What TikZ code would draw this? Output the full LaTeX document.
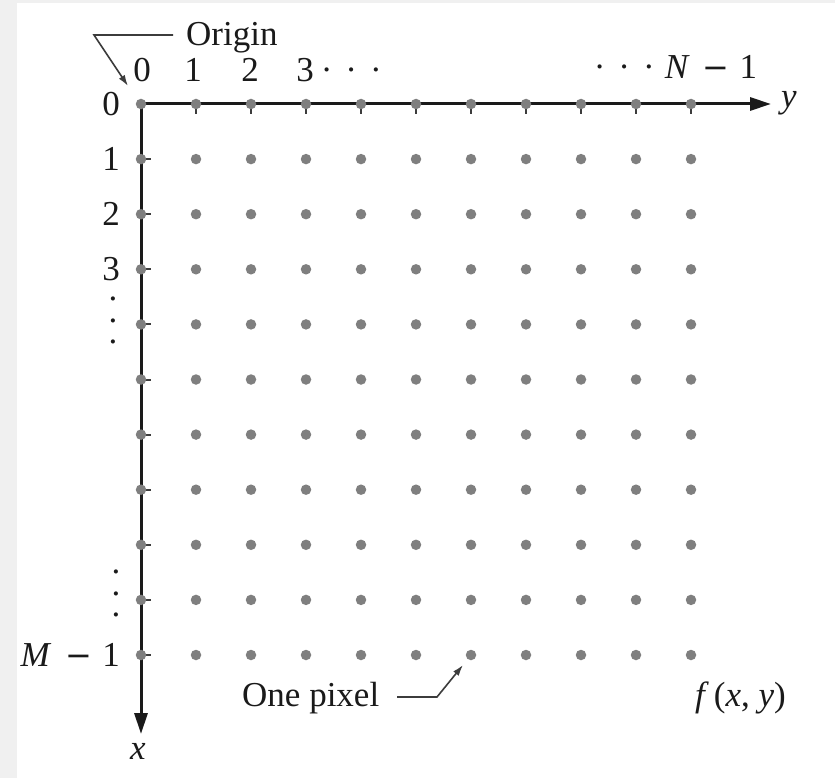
\documentclass[tikz,border=0pt]{standalone}
\usepackage{fontspec}
\setmainfont{Liberation Serif}
\newfontfamily\minusfont{DejaVu Sans}
\newcommand{\mnus}{{\minusfont\fontsize{32}{40}\selectfont −}}
\usetikzlibrary{arrows.meta}
\definecolor{bggray}{HTML}{F0F0F0}
\definecolor{dotgray}{HTML}{7F7F7F}
\definecolor{ink}{HTML}{1A1A1A}
\begin{document}
\begin{tikzpicture}[x=1pt,y=-1pt,
  lab/.style={font=\fontsize{35}{40}\selectfont, text=ink, inner sep=0pt},
  vdot/.style={lab, text height=4pt, text depth=0pt},
  pix/.style={circle, fill=dotgray, minimum size=10.5pt, inner sep=0pt},
  axisline/.style={line width=3pt, draw=ink, -{Triangle[length=21pt,width=13pt]}},
  tickmark/.style={line width=2pt, draw=ink!85},
  leader/.style={line width=1.6pt, draw=ink!85, -{Latex[length=11pt,width=7pt]}}]
\fill[bggray] (0,0) rectangle (835,778);
\fill[white] (17,3) rectangle (835,778);
\useasboundingbox (0,0) rectangle (835,778);
% grid coordinates
\foreach \i in {0,...,10}{
  \foreach \j in {0,...,10}{
    \coordinate (p-\i-\j) at ({141+55*\j},{104+55.1*\i});
  }
}
\coordinate (yend) at (771,104);
\coordinate (xend) at (141,734);
% axes
\draw[axisline] (p-0-0) -- (yend);
\draw[axisline] (p-0-0) -- (xend);
\foreach \k in {1,...,10}{
  \draw[tickmark] (p-0-\k) -- ++(0,10);
  \draw[tickmark] (p-\k-0) -- ++(10,0);
}
% pixels
\foreach \i in {0,...,10}{
  \foreach \j in {0,...,10}{
    \node[pix] (d-\i-\j) at (p-\i-\j) {};
  }
}
% top labels
\node[lab, anchor=base] (t0) at (142,82) {0};
\node[lab, anchor=base] (t1) at (193,82) {1};
\node[lab, anchor=base] (t2) at (250,82) {2};
\node[lab, anchor=base] (t3) at (305,82) {3};
\node[lab, anchor=base west] (tdots) at (320.6,82) {·\kern13pt·\kern13pt·};
\node[lab, anchor=base west] (tN) at (593.6,79) {·\kern13pt·\kern13pt·\kern10pt\textit{N}\kern13pt\mnus\kern10pt1};
\node[lab, anchor=base] (ylab) at (789,108) {\textit{y}};
% left labels
\node[lab, anchor=east] (l0) at (120,104) {0};
\node[lab, anchor=east] (l1) at (120,159.1) {1};
\node[lab, anchor=east] (l2) at (120,214.2) {2};
\node[lab, anchor=east] (l3) at (120,269.3) {3};
\foreach \yy [count=\n] in {299,320.5,342}{
  \node[vdot, anchor=base] (va\n) at (113,\yy+1.8) {.};
}
\foreach \yy [count=\n] in {572,593.5,615}{
  \node[vdot, anchor=base] (vb\n) at (116,\yy+1.8) {.};
}
\node[lab, anchor=east] (lM) at (120,655) {\textit{M}\kern14pt\mnus\kern10pt1};
\node[lab, anchor=base] (xlab) at (138,759) {\textit{x}};
% origin callout
\node[lab, anchor=base west] (origin) at (186,46) {Origin};
\coordinate (o1) at (173,35);
\coordinate (o2) at (94,35);
\coordinate (o3) at (128,86);
\draw[leader] (o1) -- (o2) -- (o3);
% one pixel callout
\node[lab, anchor=base west] (onepix) at (242,706) {One pixel};
\coordinate (q1) at (397,697);
\coordinate (q2) at (437,697);
\coordinate (q3) at (463,665);
\draw[leader] (q1) -- (q2) -- (q3);
% function label
\node[lab, anchor=base west] (fxy) at (695,706) {\textit{f}\kern5pt(\textit{x}, \textit{y})};
\end{tikzpicture}
\end{document}
